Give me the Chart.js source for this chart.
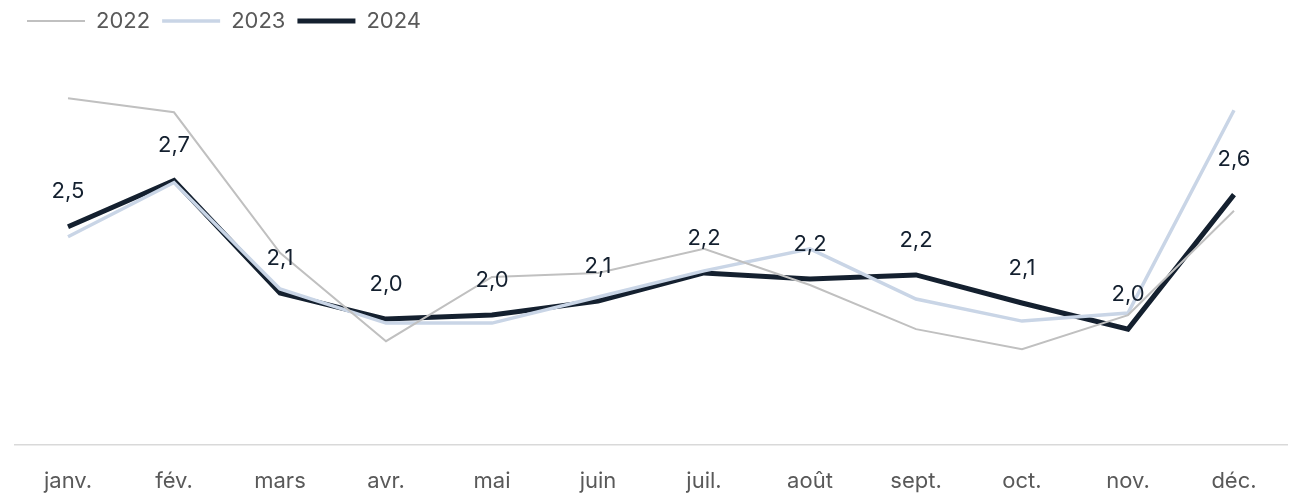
<!DOCTYPE html>
<html lang="fr">
<head>
<meta charset="utf-8">
<script src="https://cdn.jsdelivr.net/npm/chart.js@4.4.1/dist/chart.umd.min.js"></script>
<style>
    html, body { margin: 0; padding: 0; background: #ffffff; }
    #wrap { width: 1289px; height: 495px; position: relative; }
</style>
</head>
<body>
<div id="wrap"><canvas id="inflationChart"></canvas></div>
<script>
const months = ["janv.", "fév.", "mars", "avr.", "mai", "juin", "juil.", "août", "sept.", "oct.", "nov.", "déc."];
const values2022 = [3.11, 3.04, 2.34, 1.90, 2.22, 2.24, 2.36, 2.18, 1.96, 1.86, 2.03, 2.55];
const values2023 = [2.42, 2.69, 2.16, 1.99, 1.99, 2.12, 2.25, 2.36, 2.11, 2.00, 2.04, 3.05];
const values2024 = [2.47, 2.70, 2.14, 2.01, 2.03, 2.10, 2.24, 2.21, 2.23, 2.09, 1.96, 2.63];

document.addEventListener("DOMContentLoaded", function() {
    const ctx = document.getElementById("inflationChart").getContext("2d");
    const fontFamily = "Inter, 'Noto Sans', sans-serif";

    // étiquettes de valeurs au-dessus de la série 2024
    const pointLabels = {
        id: "pointLabels",
        afterDatasetsDraw: function(chart) {
            const meta = chart.getDatasetMeta(2);
            const c = chart.ctx;
            c.save();
            c.font = "22px " + fontFamily;
            c.fillStyle = "#14202f";
            c.textAlign = "center";
            c.textBaseline = "middle";
            meta.data.forEach(function(pt, i) {
                const txt = values2024[i].toFixed(1).replace(".", ",");
                c.fillText(txt, pt.x, pt.y - 35);
            });
            c.restore();
        }
    };

    new Chart(ctx, {
        type: "line",
        data: {
            labels: months,
            datasets: [
                { label: "2022", data: values2022, borderColor: "#c0c0c0", backgroundColor: "#c0c0c0", borderWidth: 2, pointRadius: 0, tension: 0 },
                { label: "2023", data: values2023, borderColor: "#c9d5e6", backgroundColor: "#c9d5e6", borderWidth: 3.5, pointRadius: 0, tension: 0 },
                { label: "2024", data: values2024, borderColor: "#14202f", backgroundColor: "#14202f", borderWidth: 5, pointRadius: 0, tension: 0 }
            ]
        },
        options: {
            responsive: true,
            maintainAspectRatio: false,
            animation: false,
            layout: { padding: { left: 15, right: 2, top: -2, bottom: -24 } },
            plugins: {
                legend: {
                    position: "top",
                    align: "start",
                    labels: {
                        usePointStyle: true,
                        pointStyle: "line",
                        pointStyleWidth: 58,
                        padding: 12,
                        color: "#595959",
                        font: { family: fontFamily, size: 22 }
                    }
                },
                tooltip: { enabled: false }
            },
            scales: {
                x: {
                    offset: true,
                    grid: { display: false, drawTicks: false },
                    border: { display: true, color: "#d9d9d9", width: 1.5 },
                    ticks: { color: "#595959", padding: 24, font: { family: fontFamily, size: 22 } }
                },
                y: {
                    display: false,
                    min: 1.385,
                    max: 3.39
                }
            }
        },
        plugins: [pointLabels]
    });
});
</script>
</body>
</html>
